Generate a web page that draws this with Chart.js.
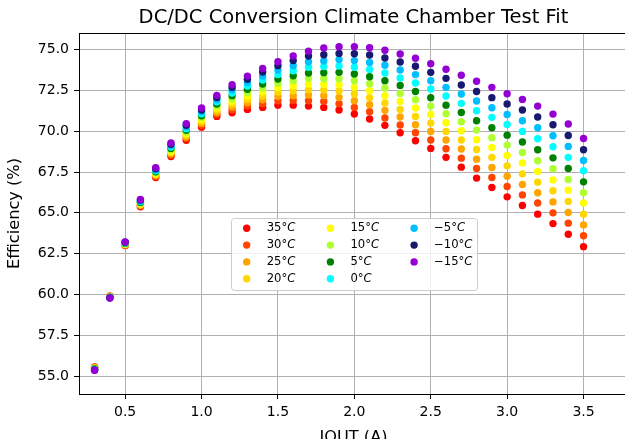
<!DOCTYPE html>
<html>
<head>
<meta charset="utf-8">
<script src="https://cdn.jsdelivr.net/npm/chart.js@4.4.0/dist/chart.umd.min.js"></script>
<style>
html, body { margin: 0; padding: 0; background: #fff; overflow: hidden; }
canvas { display: block; }
</style>
</head>
<body>
<!-- the plot runs a little past the right edge of the window, as in the original -->
<canvas id="canvas" width="628" height="439"></canvas>
<script>
// load current (A)
var iout = [0.3,0.4,0.5,0.6,0.7,0.8,0.9,1.0,1.1,1.2,1.3,1.4,1.5,1.6,1.7,1.8,1.9,2.0,2.1,2.2,2.3,2.4,2.5,2.6,2.7,2.8,2.9,3.0,3.1,3.2,3.3,3.4,3.5];

// efficiency (%) per chamber temperature
var eff35  = [55.55,59.9,63.0,65.37,67.17,68.45,69.45,70.25,70.91,71.13,71.34,71.46,71.6,71.6,71.54,71.46,71.3,71.06,70.75,70.36,69.91,69.42,68.95,68.4,67.8,67.13,66.55,65.98,65.45,64.92,64.34,63.69,62.93];
var eff30  = [55.53,59.89,63.02,65.42,67.23,68.53,69.55,70.37,71.03,71.32,71.54,71.69,71.87,71.89,71.87,71.83,71.69,71.46,71.2,70.81,70.38,69.91,69.46,68.93,68.35,67.72,67.17,66.61,66.1,65.6,65.0,64.37,63.6];
var eff25  = [55.51,59.88,63.04,65.46,67.29,68.62,69.65,70.48,71.15,71.48,71.75,71.93,72.14,72.18,72.22,72.18,72.07,71.87,71.63,71.28,70.87,70.4,69.99,69.46,68.91,68.29,67.78,67.25,66.74,66.23,65.67,65.02,64.26];
var eff20  = [55.49,59.86,63.07,65.51,67.35,68.7,69.76,70.6,71.3,71.67,71.95,72.16,72.4,72.48,72.55,72.53,72.47,72.28,72.06,71.73,71.34,70.91,70.5,69.99,69.46,68.88,68.4,67.88,67.39,66.88,66.35,65.7,64.92];
var eff15  = [55.47,59.85,63.09,65.55,67.41,68.78,69.86,70.72,71.42,71.83,72.16,72.4,72.67,72.79,72.89,72.87,72.85,72.69,72.48,72.18,71.83,71.42,71.03,70.52,70.03,69.48,69.01,68.52,68.05,67.53,67.02,66.39,65.6];
var eff10  = [55.45,59.84,63.11,65.6,67.47,68.87,69.96,70.84,71.54,71.99,72.36,72.65,72.94,73.1,73.24,73.22,73.22,73.1,72.91,72.65,72.32,71.93,71.54,71.07,70.58,70.07,69.6,69.15,68.7,68.19,67.7,67.04,66.23];
var eff5   = [55.43,59.83,63.13,65.64,67.52,68.95,70.06,70.95,71.67,72.18,72.57,72.89,73.2,73.4,73.57,73.59,73.61,73.51,73.34,73.1,72.81,72.44,72.06,71.6,71.15,70.64,70.21,69.76,69.34,68.87,68.37,67.72,66.9];
var eff0   = [55.41,59.82,63.15,65.69,67.58,69.03,70.16,71.07,71.81,72.34,72.77,73.14,73.47,73.71,73.92,73.96,74.0,73.92,73.79,73.57,73.26,72.96,72.59,72.16,71.71,71.26,70.85,70.42,69.99,69.54,69.05,68.4,67.58];
var effM5  = [55.39,59.8,63.18,65.73,67.64,69.11,70.27,71.19,71.93,72.53,72.98,73.38,73.75,74.02,74.26,74.3,74.39,74.33,74.22,74.04,73.75,73.47,73.1,72.69,72.28,71.85,71.44,71.03,70.64,70.21,69.72,69.07,68.21];
var effM10 = [55.37,59.79,63.2,65.78,67.7,69.2,70.37,71.3,72.07,72.69,73.18,73.63,74.02,74.33,74.61,74.69,74.77,74.75,74.67,74.49,74.24,73.98,73.61,73.24,72.83,72.44,72.06,71.67,71.3,70.87,70.4,69.74,68.87];
var effM15 = [55.35,59.78,63.22,65.82,67.76,69.28,70.47,71.42,72.2,72.85,73.38,73.85,74.26,74.61,74.9,75.1,75.18,75.18,75.12,74.96,74.73,74.47,74.14,73.8,73.43,73.06,72.69,72.3,71.95,71.54,71.05,70.44,69.56];

var temps  = [35, 30, 25, 20, 15, 10, 5, 0, -5, -10, -15];
var series = [eff35, eff30, eff25, eff20, eff15, eff10, eff5, eff0, effM5, effM10, effM15];
var colors = ['#ff0000','#ff4500','#ffa500','#ffd700','#ffff00','#adff2f','#008000','#00ffff','#00bfff','#191970','#9400d3'];

var xTicks = [0.5, 1.0, 1.5, 2.0, 2.5, 3.0, 3.5];
var yTicks = [55.0, 57.5, 60.0, 62.5, 65.0, 67.5, 70.0, 72.5, 75.0];

var FONT = '"DejaVu Sans", sans-serif';
Chart.defaults.color = '#000';
Chart.defaults.font.family = FONT;

function tempText(t) {
    return (t < 0 ? '\u2212' + (-t) : '' + t) + '\u00b0';
}

var datasets = series.map(function(vals, i){
    return {
        label: tempText(temps[i]) + 'C',
        data: vals.map(function(v, j){ return {x: iout[j], y: v}; }),
        backgroundColor: colors[i],
        borderWidth: 0,
        pointRadius: 3.7,
        order: series.length - 1 - i   // coldest drawn on top
    };
});

// legend in 3 columns inside the plot, like the original
var boxLegend = {
    id: 'boxLegend',
    afterDraw: function(chart){
        var ctx = chart.ctx;
        ctx.save();
        ctx.beginPath();
        ctx.roundRect(231.5, 218.5, 246, 72, 3);
        ctx.fillStyle = 'rgba(255,255,255,0.8)';
        ctx.fill();
        ctx.strokeStyle = '#cccccc';
        ctx.lineWidth = 1;
        ctx.stroke();
        ctx.textBaseline = 'middle';
        ctx.textAlign = 'left';
        temps.forEach(function(t, i){
            var col = Math.floor(i / 4), row = i % 4;
            var mx = 246.7 + col * 83.7, my = 228.3 + row * 16.8;
            ctx.beginPath();
            ctx.arc(mx, my, 3.7, 0, 2 * Math.PI);
            ctx.fillStyle = colors[i];
            ctx.fill();
            ctx.fillStyle = '#000';
            var tx = mx + 20;
            var s = tempText(t);
            ctx.font = '11.6px ' + FONT;
            ctx.fillText(s, tx, my);
            var w = ctx.measureText(s).width;
            ctx.font = 'italic 11.6px ' + FONT;
            ctx.fillText('C', tx + w, my);
        });
        ctx.restore();
    }
};

// top spine
var frame = {
    id: 'frame',
    afterDatasetsDraw: function(chart){
        var a = chart.chartArea, ctx = chart.ctx;
        ctx.save();
        ctx.strokeStyle = '#000';
        ctx.lineWidth = 1;
        ctx.beginPath();
        ctx.moveTo(a.left, Math.round(a.top) + 0.5);
        ctx.lineTo(a.right, Math.round(a.top) + 0.5);
        ctx.stroke();
        ctx.restore();
    }
};

var chart = new Chart(document.getElementById('canvas').getContext('2d'), {
    type: 'scatter',
    data: { datasets: datasets },
    options: {
        responsive: false,
        animation: false,
        layout: { autoPadding: false, padding: 0 },
        plugins: {
            legend: { display: false },
            tooltip: { enabled: false },
            title: {
                display: true,
                fullSize: false,
                text: 'DC/DC Conversion Climate Chamber Test Fit',
                color: '#000',
                font: { family: FONT, size: 19.5, weight: 'normal' },
                padding: { top: 6.3, bottom: 3.3 }
            }
        },
        scales: {
            x: {
                type: 'linear',
                position: 'bottom',
                min: 0.198,
                max: 3.791,
                z: 1,
                afterBuildTicks: function(s){ s.ticks = xTicks.map(function(v){ return {value: v}; }); },
                afterFit: function(s){ s.height = 45; },
                grid: { color: '#b0b0b0', lineWidth: 1, tickColor: '#000', tickLength: 5 },
                border: { color: '#000', width: 1 },
                ticks: {
                    color: '#000', padding: 5, maxRotation: 0,
                    font: { family: FONT, size: 14 },
                    callback: function(v){ return v.toFixed(1); }
                },
                title: {
                    display: true, text: 'IOUT (A)', color: '#000',
                    font: { family: FONT, size: 16.2 },
                    padding: { top: 0, bottom: -8.2 }
                }
            },
            y: {
                type: 'linear',
                min: 53.9,
                max: 76.02,
                z: 1,
                afterBuildTicks: function(s){ s.ticks = yTicks.map(function(v){ return {value: v}; }); },
                afterFit: function(s){ s.width = 79; },
                grid: { color: '#b0b0b0', lineWidth: 1, tickColor: '#000', tickLength: 5 },
                border: { color: '#000', width: 1 },
                ticks: {
                    color: '#000', padding: 5,
                    font: { family: FONT, size: 14 },
                    callback: function(v){ return v.toFixed(1); }
                },
                title: {
                    display: true, text: 'Efficiency (%)', color: '#000',
                    font: { family: FONT, size: 16.2 },
                    padding: { top: 5.3, bottom: 0 }
                }
            }
        }
    },
    plugins: [frame, boxLegend]
});
</script>
</body>
</html>
